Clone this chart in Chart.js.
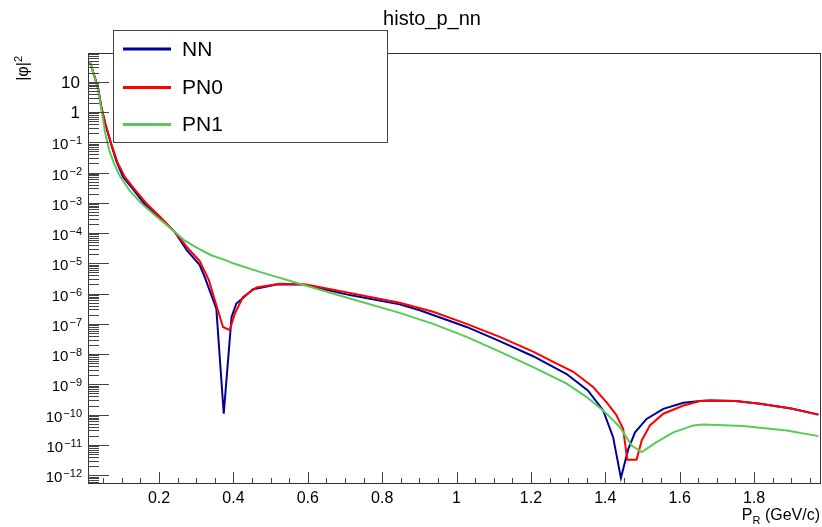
<!DOCTYPE html>
<html>
<head>
<meta charset="utf-8">
<script src="https://cdn.jsdelivr.net/npm/chart.js@4.4.0/dist/chart.umd.min.js"></script>
<style>
  html, body { margin: 0; padding: 0; background: #fff; }
  canvas { display: block; }
</style>
</head>
<body>
<canvas id="histo" width="822" height="527"></canvas>
<script>
// values: momentum P_R (GeV/c) and |phi|^2
const nnX = [0.014, 0.036, 0.045, 0.056, 0.072, 0.085, 0.103, 0.132, 0.160, 0.202, 0.242, 0.274, 0.309, 0.323, 0.354,
             0.374, 0.395, 0.408, 0.453, 0.516, 0.587, 0.713, 0.847, 0.901, 1.027, 1.116, 1.206, 1.296, 1.353, 1.394,
             1.421, 1.442, 1.462, 1.480, 1.511, 1.556, 1.610, 1.655, 1.682, 1.750, 1.816, 1.900, 1.973];
const nnY = [46, 6.3, 1.4, 0.38, 0.08, 0.024, 7.2e-3, 2.6e-3, 9.5e-4, 3.2e-4, 1.1e-4, 2.75e-5, 8.9e-6, 3.5e-6, 3.2e-7,
             1.07e-10, 1.7e-7, 4.7e-7, 1.4e-6, 2.0e-6, 2.0e-6, 8.9e-7, 4.4e-7, 2.8e-7, 7.9e-8, 2.7e-8, 8.5e-9, 2.2e-9, 6.3e-10, 1.4e-10,
             1.8e-11, 8.1e-13, 7.4e-12, 2.6e-11, 7.2e-11, 1.55e-10, 2.45e-10, 2.8e-10, 2.95e-10, 2.8e-10, 2.3e-10, 1.6e-10, 1.0e-10];

const pn0X = [0.014, 0.036, 0.045, 0.056, 0.072, 0.088, 0.108, 0.136, 0.166, 0.202, 0.242, 0.282, 0.309, 0.334, 0.354,
              0.372, 0.390, 0.404, 0.426, 0.462, 0.525, 0.596, 0.713, 0.847, 0.937, 1.027, 1.116, 1.206, 1.260, 1.314,
              1.368, 1.404, 1.429, 1.448, 1.459, 1.484, 1.498, 1.520, 1.556, 1.610, 1.655, 1.682, 1.750, 1.816, 1.900, 1.973];
const pn0Y = [46, 6.3, 1.4, 0.40, 0.085, 0.022, 7.2e-3, 2.6e-3, 9.5e-4, 3.5e-4, 1.1e-4, 2.75e-5, 1.2e-5, 2.8e-6, 4.2e-7,
              7.9e-8, 6.2e-8, 2.2e-7, 7.8e-7, 1.6e-6, 2.1e-6, 2.0e-6, 1.05e-6, 5.0e-7, 2.5e-7, 1.0e-7, 3.7e-8, 1.2e-8, 5.5e-9, 2.6e-9,
              8.0e-10, 2.5e-10, 1.0e-10, 3.4e-11, 3.2e-12, 3.2e-12, 1.4e-11, 4.4e-11, 1.07e-10, 2.0e-10, 2.8e-10, 2.95e-10, 2.8e-10, 2.3e-10, 1.6e-10, 1.0e-10];

const pn1X = [0.014, 0.036, 0.045, 0.056, 0.067, 0.079, 0.094, 0.121, 0.153, 0.193, 0.242, 0.270, 0.305, 0.340, 0.377,
              0.399, 0.471, 0.578, 0.713, 0.847, 0.937, 1.027, 1.116, 1.206, 1.296, 1.350, 1.394, 1.439, 1.471, 1.498,
              1.538, 1.583, 1.637, 1.663, 1.771, 1.888, 1.973];
const pn1Y = [46, 5.5, 1.17, 0.18, 0.05, 0.020, 7.9e-3, 2.5e-3, 9.5e-4, 3.5e-4, 1.1e-4, 5.5e-5, 3.1e-5, 1.85e-5, 1.3e-5,
              1.0e-5, 5.2e-6, 2.1e-6, 6.9e-7, 2.3e-7, 1.0e-7, 3.7e-8, 1.2e-8, 3.7e-9, 1.05e-9, 3.8e-10, 1.38e-10, 3.9e-11, 9.5e-12, 5.8e-12,
              1.23e-11, 2.6e-11, 4.4e-11, 4.7e-11, 4.2e-11, 3.0e-11, 1.95e-11];

const seriesNames = ['NN', 'PN0', 'PN1'];
const seriesColors = ['#000099', '#ff0000', '#55cc55'];

const xTickValues = [0.2, 0.4, 0.6, 0.8, 1.0, 1.2, 1.4, 1.6, 1.8];
const xTickLabels = ['0.2', '0.4', '0.6', '0.8', '1', '1.2', '1.4', '1.6', '1.8'];
const yTickExps = [1, 0, -1, -2, -3, -4, -5, -6, -7, -8, -9, -10, -11, -12];

const FONT = '"Liberation Sans", Arial, Helvetica, sans-serif';

function toPoints(xs, ys) {
    return xs.map((x, i) => ({ x: x, y: ys[i] }));
}

// ROOT-like frame, inside ticks, labels, titles and legend box
const rootStyle = {
    id: 'rootStyle',
    afterDraw(chart) {
        const ctx = chart.ctx;
        const xs = chart.scales.x;
        const ys = chart.scales.y;
        const a = chart.chartArea;
        ctx.save();

        // frame
        ctx.strokeStyle = '#333';
        ctx.lineWidth = 1;
        ctx.strokeRect(a.left + 0.5, a.top + 0.5, a.right - a.left - 1, a.bottom - a.top - 1);

        // x ticks (major every 0.2, minor every 0.05)
        ctx.strokeStyle = '#444';
        ctx.beginPath();
        for (let k = 1; k < 40; k++) {
            const v = k * 0.05;
            if (v < xs.min || v > xs.max) continue;
            const px = Math.round(xs.getPixelForValue(v)) + 0.5;
            const len = (k % 4 === 0) ? 12 : 6;
            ctx.moveTo(px, a.bottom);
            ctx.lineTo(px, a.bottom - len);
        }
        // y ticks (major per decade, minor 2..9)
        for (let e = -13; e <= 1; e++) {
            for (let m = 1; m <= 9; m++) {
                const v = m * Math.pow(10, e);
                if (v < ys.min || v > ys.max) continue;
                const py = Math.round(ys.getPixelForValue(v)) + 0.5;
                const len = (m === 1) ? 21 : 11;
                ctx.moveTo(a.left, py);
                ctx.lineTo(a.left + len, py);
            }
        }
        ctx.stroke();

        // x tick labels
        ctx.fillStyle = '#000';
        ctx.font = '16px ' + FONT;
        ctx.textAlign = 'center';
        ctx.textBaseline = 'alphabetic';
        xTickValues.forEach((v, i) => {
            ctx.fillText(xTickLabels[i], xs.getPixelForValue(v), 503);
        });

        // y tick labels as 10^n
        yTickExps.forEach(e => {
            const py = ys.getPixelForValue(Math.pow(10, e));
            if (e === 1 || e === 0) {
                ctx.font = '17px ' + FONT;
                ctx.textAlign = 'right';
                ctx.fillText(e === 1 ? '10' : '1', 80, py + 6);
                return;
            }
            const sup = '\u2212' + Math.abs(e);
            ctx.font = '11px ' + FONT;
            const supW = ctx.measureText(sup).width;
            ctx.textAlign = 'right';
            ctx.fillText(sup, 82, py + 2);
            ctx.font = '15px ' + FONT;
            ctx.fillText('10', 82 - supW - 1, py + 7);
        });

        // title
        ctx.font = '20px ' + FONT;
        ctx.textAlign = 'center';
        ctx.fillText('histo_p_nn', 432, 25);

        // x axis title P_R (GeV/c), right aligned
        ctx.textAlign = 'left';
        ctx.font = '16px ' + FONT;
        const rest = ' (GeV/c)';
        const wRest = ctx.measureText(rest).width;
        const wP = ctx.measureText('P').width;
        ctx.font = '11px ' + FONT;
        const wR = ctx.measureText('R').width;
        let tx = 820 - wRest - wR - wP;
        ctx.font = '16px ' + FONT;
        ctx.fillText('P', tx, 520);
        ctx.font = '11px ' + FONT;
        ctx.fillText('R', tx + wP, 524);
        ctx.font = '16px ' + FONT;
        ctx.fillText(rest, tx + wP + wR, 520);

        // y axis title |phi|^2, rotated, ending at top of the axis
        ctx.save();
        ctx.translate(28, 56);
        ctx.rotate(-Math.PI / 2);
        ctx.textAlign = 'right';
        ctx.font = '11px ' + FONT;
        const w2 = ctx.measureText('2').width;
        ctx.fillText('2', 0, -6);
        ctx.font = '16px ' + FONT;
        ctx.fillText('|\u03c6|', -w2, 0);
        ctx.restore();

        // legend
        const lg = { x: 113, y: 30, w: 275, h: 113 };
        ctx.fillStyle = '#fff';
        ctx.fillRect(lg.x, lg.y, lg.w, lg.h);
        ctx.strokeStyle = '#444';
        ctx.strokeRect(lg.x + 0.5, lg.y + 0.5, lg.w - 1, lg.h - 1);
        const rowY = [49, 87.5, 124.5];
        ctx.font = '21px ' + FONT;
        ctx.textAlign = 'left';
        ctx.textBaseline = 'middle';
        seriesNames.forEach((name, i) => {
            ctx.strokeStyle = seriesColors[i];
            ctx.lineWidth = 3;
            ctx.beginPath();
            ctx.moveTo(123, rowY[i]);
            ctx.lineTo(171, rowY[i]);
            ctx.stroke();
            ctx.fillStyle = '#000';
            ctx.fillText(name, 182, rowY[i] + 1);
        });

        ctx.restore();
    }
};

new Chart(document.getElementById('histo').getContext('2d'), {
    type: 'line',
    data: {
        datasets: [
            { label: seriesNames[0], data: toPoints(nnX, nnY), borderColor: seriesColors[0], order: 3 },
            { label: seriesNames[1], data: toPoints(pn0X, pn0Y), borderColor: seriesColors[1], order: 2 },
            { label: seriesNames[2], data: toPoints(pn1X, pn1Y), borderColor: seriesColors[2], order: 1 }
        ]
    },
    options: {
        responsive: false,
        animation: false,
        devicePixelRatio: 1,
        layout: { padding: { top: 53, right: 1, left: 0, bottom: 0 } },
        elements: {
            line: { borderWidth: 2, tension: 0, fill: false },
            point: { radius: 0 }
        },
        plugins: {
            legend: { display: false },
            title: { display: false },
            tooltip: { enabled: false }
        },
        scales: {
            x: {
                type: 'linear',
                min: 0.009,
                max: 1.98,
                grid: { display: false },
                border: { display: false },
                ticks: { display: false },
                afterFit: s => { s.height = 43; }
            },
            y: {
                type: 'logarithmic',
                min: 5.1e-13,
                max: 89,
                grid: { display: false },
                border: { display: false },
                ticks: { display: false },
                afterFit: s => { s.width = 88; }
            }
        }
    },
    plugins: [rootStyle]
});
</script>
</body>
</html>
